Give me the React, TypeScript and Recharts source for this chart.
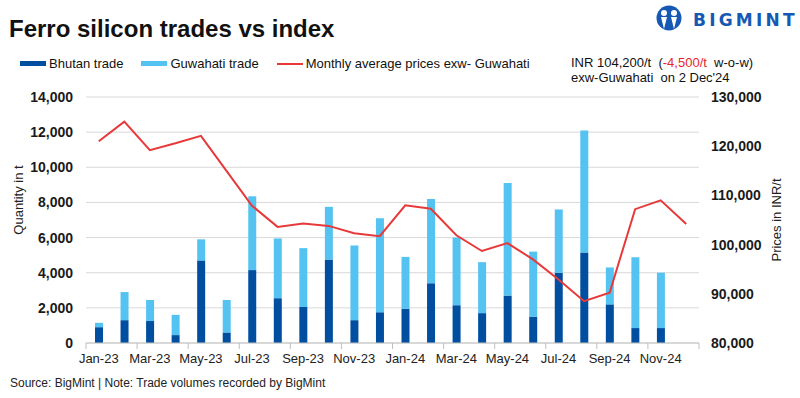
import React from 'react';
import { ComposedChart, Bar, Line, XAxis, YAxis, CartesianGrid, Label } from 'recharts';

const months = [
  'Jan-23', 'Feb-23', 'Mar-23', 'Apr-23', 'May-23', 'Jun-23', 'Jul-23', 'Aug-23', 'Sep-23', 'Oct-23', 'Nov-23', 'Dec-23',
  'Jan-24', 'Feb-24', 'Mar-24', 'Apr-24', 'May-24', 'Jun-24', 'Jul-24', 'Aug-24', 'Sep-24', 'Oct-24', 'Nov-24', 'Dec-24',
];
const bhutanTrade: (number | null)[] = [
  900, 1300, 1250, 450, 4700, 600, 4150, 2550, 2050, 4750, 1300, 1750,
  1950, 3400, 2150, 1700, 2700, 1500, 4000, 5150, 2200, 850, 850, null,
];
const guwahatiTrade: (number | null)[] = [
  250, 1600, 1200, 1150, 1200, 1850, 4200, 3400, 3350, 3000, 4250, 5350,
  2950, 4800, 3850, 2900, 6400, 3700, 3600, 6950, 2100, 4030, 3150, null,
];
const avgPrice = [
  121000, 125000, 119200, 120600, 122100, 115000, 107900, 103600, 104300, 103800, 102300, 101700,
  108000, 107300, 101900, 98700, 100300, 97000, 92900, 88500, 90200, 107200, 109000, 104200,
];
const leftTicks = [0, 2000, 4000, 6000, 8000, 10000, 12000, 14000];
const rightTicks = [80000, 90000, 100000, 110000, 120000, 130000];

const data = months.map((m, i) => ({
  month: m,
  bhutan: bhutanTrade[i],
  guwahati: guwahatiTrade[i],
  price: avgPrice[i],
}));

const C_BHUTAN = '#004EA0';
const C_GUW = '#55C3F1';
const C_RED = '#E8393A';
const FONT = '"Liberation Sans", Arial, sans-serif';
const PLOT_W = 613;
const BAND = PLOT_W / months.length;
const fmt = (v: number) => v.toLocaleString('en-US');

const XTick = (props: any) => {
  const { x, y, payload } = props;
  const lx = x - BAND / 2;
  return (
    <g>
      <line x1={lx} x2={lx} y1={y} y2={y + 6} stroke="#bfbfbf" strokeWidth={1} />
      {payload.value === 'Nov-24' && (
        <line x1={x + BAND * 1.5} x2={x + BAND * 1.5} y1={y} y2={y + 6} stroke="#bfbfbf" strokeWidth={1} />
      )}
      <text x={x} y={y + 20} textAnchor="middle" fontSize={13} fill="#222" fontFamily={FONT}>
        {payload.value}
      </text>
    </g>
  );
};

const LegendItem = ({ color, label, line }: { color: string; label: string; line?: boolean }) => (
  <div style={{ display: 'flex', alignItems: 'center', marginRight: 18 }}>
    <div style={{ width: 26, height: line ? 2 : 5, background: color, marginRight: 3 }} />
    <span>{label}</span>
  </div>
);

export default function App() {
  return (
    <div style={{ position: 'absolute', left: 0, top: 0, width: 800, height: 398, background: '#fff', fontFamily: FONT, overflow: 'hidden' }}>
      <div style={{ position: 'absolute', left: 9, top: 15, fontSize: 24, fontWeight: 'bold', color: '#111', whiteSpace: 'nowrap' }}>
        Ferro silicon trades vs index
      </div>
      <svg style={{ position: 'absolute', left: 655, top: 5 }} width={145} height={28}>
        <circle cx={14} cy={13} r={12.5} fill="#1659B4" />
        <circle cx={9} cy={8} r={3} fill="#fff" />
        <circle cx={19} cy={8} r={3} fill="#fff" />
        <path d="M6 12 L9 24 L12 12 Z" fill="#fff" />
        <path d="M16 12 L19 24 L22 12 Z" fill="#fff" />
        <text x={38} y={21} fontSize={17} fontWeight="bold" fill="#1659B4" letterSpacing={3.2} fontFamily={'"DejaVu Sans", sans-serif'}>
          BIGMINT
        </text>
      </svg>
      <div style={{ position: 'absolute', left: 20, top: 56, display: 'flex', fontSize: 13, color: '#111', whiteSpace: 'nowrap' }}>
        <LegendItem color={C_BHUTAN} label="Bhutan trade" />
        <LegendItem color={C_GUW} label="Guwahati trade" />
        <LegendItem color={C_RED} label="Monthly average prices exw- Guwahati" line />
      </div>
      <div style={{ position: 'absolute', left: 571, top: 55, fontSize: 13, color: '#111', lineHeight: '15px', whiteSpace: 'pre' }}>
        <div>
          INR 104,200/t  (<span style={{ color: '#E8262A' }}>-4,500/t</span>  w-o-w)
        </div>
        <div>exw-Guwahati  on 2 Dec'24</div>
      </div>
      <div style={{ position: 'absolute', left: 0, top: 0 }}>
        <ComposedChart
          width={800}
          height={398}
          data={data}
          margin={{ top: 97, right: 1, left: 0, bottom: 25 }}
          barSize={8}
        >
          <CartesianGrid yAxisId="left" vertical={false} stroke="#d9d9d9" ticks={leftTicks} />
          <XAxis
            dataKey="month"
            interval={1}
            height={30}
            tickSize={0}
            tickMargin={0}
            tickLine={false}
            axisLine={{ stroke: '#c4c4c4' }}
            tick={<XTick />}
          />
          <YAxis
            yAxisId="left"
            orientation="left"
            width={86}
            domain={[0, 14000]}
            ticks={leftTicks}
            tickFormatter={fmt}
            axisLine={false}
            tickLine={false}
            tickSize={0}
            tickMargin={13}
            tick={{ fontSize: 14, fontWeight: 'bold', fill: '#1a1a1a', fontFamily: FONT }}
          >
            <Label
              content={() => (
                <text x={0} y={0} transform="translate(23,200) rotate(-90)" textAnchor="middle" fontSize={13} fill="#222" fontFamily={FONT}>
                  Quantity in t
                </text>
              )}
            />
          </YAxis>
          <YAxis
            yAxisId="right"
            orientation="right"
            width={100}
            domain={[80000, 130000]}
            ticks={rightTicks}
            tickFormatter={fmt}
            axisLine={false}
            tickLine={false}
            tickSize={0}
            tickMargin={12}
            tick={{ fontSize: 14, fontWeight: 'bold', fill: '#1a1a1a', fontFamily: FONT, textAnchor: 'start' }}
          >
            <Label
              content={() => (
                <text x={0} y={0} transform="translate(781,220) rotate(-90)" textAnchor="middle" fontSize={13} fill="#222" fontFamily={FONT}>
                  Prices in INR/t
                </text>
              )}
            />
          </YAxis>
          <Bar yAxisId="left" dataKey="bhutan" stackId="a" fill={C_BHUTAN} isAnimationActive={false} />
          <Bar yAxisId="left" dataKey="guwahati" stackId="a" fill={C_GUW} isAnimationActive={false} />
          <Line
            yAxisId="right"
            dataKey="price"
            type="linear"
            stroke={C_RED}
            strokeWidth={2}
            dot={false}
            isAnimationActive={false}
          />
        </ComposedChart>
      </div>
      <div style={{ position: 'absolute', left: 10, top: 376, fontSize: 12, color: '#222', whiteSpace: 'nowrap' }}>
        Source: BigMint | Note: Trade volumes recorded by BigMint
      </div>
    </div>
  );
}
